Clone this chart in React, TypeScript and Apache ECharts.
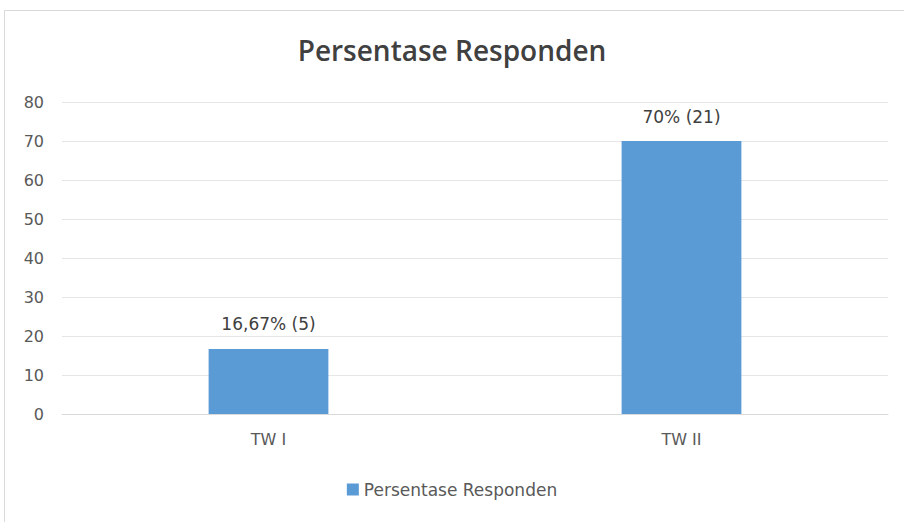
import React, { useEffect, useRef } from "react";
import * as echarts from "echarts";

const categories = ["TW I", "TW II"];
const values = [16.67, 70];
const valueLabels = ["16,67% (5)", "70% (21)"];
const seriesName = "Persentase Responden";
const titleText = "Persentase Responden";

export default function App() {
  const ref = useRef<HTMLDivElement>(null);
  useEffect(() => {
    if (!ref.current) return;
    const chart = echarts.init(ref.current, undefined, { renderer: "svg" });
    const font = "'DejaVu Sans', 'Open Sans', sans-serif";
    const titleFont = "'Open Sans', 'Noto Sans', sans-serif";
    chart.setOption({
      animation: false,
      backgroundColor: "#ffffff",
      textStyle: { fontFamily: font },
      graphic: [
        {
          type: "rect",
          shape: { x: 4.5, y: 10.5, width: 910, height: 530 },
          style: { fill: "none", stroke: "#d9d9d9", lineWidth: 1 },
          silent: true,
        },
      ],
      title: {
        text: titleText,
        left: "center",
        top: 31,
        textStyle: { fontFamily: titleFont, fontSize: 28, fontWeight: 600, color: "#404040" },
      },
      legend: {
        bottom: 19,
        left: "center",
        icon: "rect",
        itemWidth: 12,
        itemHeight: 12,
        itemGap: 8,
        textStyle: { fontFamily: font, fontSize: 17, color: "#595959" },
        data: [seriesName],
      },
      grid: { left: 62, right: 16, top: 102, bottom: 108, containLabel: false },
      xAxis: {
        type: "category",
        data: categories,
        axisLine: { show: true, lineStyle: { color: "#d9d9d9" } },
        axisTick: { show: false },
        axisLabel: { fontFamily: font, fontSize: 16, color: "#595959", margin: 17 },
      },
      yAxis: {
        type: "value",
        min: 0,
        max: 80,
        interval: 10,
        axisLine: { show: false },
        axisTick: { show: false },
        axisLabel: { fontFamily: font, fontSize: 16, color: "#595959", margin: 18 },
        splitLine: { lineStyle: { color: "#e6e6e6" } },
      },
      series: [
        {
          name: seriesName,
          type: "bar",
          data: values,
          barWidth: "29%",
          itemStyle: { color: "#5b9bd5" },
          label: {
            show: true,
            position: "top",
            distance: 16,
            fontFamily: font,
            fontSize: 17,
            color: "#404040",
            formatter: (p: any) => valueLabels[p.dataIndex],
          },
        },
      ],
    });
    return () => chart.dispose();
  }, []);
  return (
    <div style={{ position: "fixed", left: 0, top: 0, width: 904, height: 522 }}>
      <div ref={ref} style={{ width: 904, height: 522 }} />
    </div>
  );
}
